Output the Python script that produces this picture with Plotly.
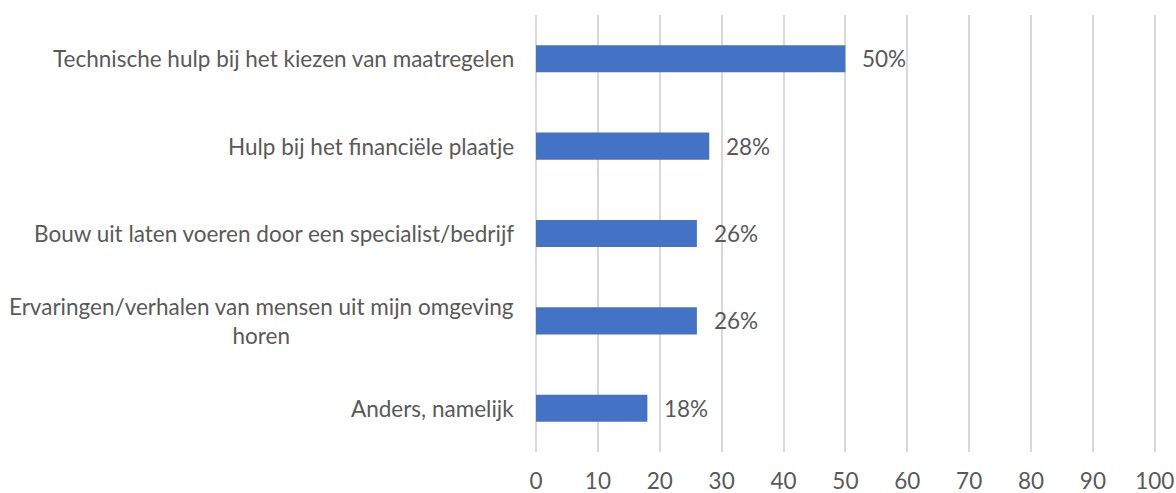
import plotly.graph_objects as go

categories = [
    "Technische hulp bij het kiezen van maatregelen",
    "Hulp bij het financiële plaatje",
    "Bouw uit laten voeren door een specialist/bedrijf",
    "Ervaringen/verhalen van mensen uit mijn omgeving<br>horen",
    "Anders, namelijk",
]
values = [50, 28, 26, 26, 18]
value_labels = ["50%", "28%", "26%", "26%", "18%"]
x_ticks = [0, 10, 20, 30, 40, 50, 60, 70, 80, 90, 100]

FONT = "Lato"
GREY = "#595959"
FS = 22.5

fig = go.Figure()
fig.add_trace(go.Bar(
    x=values, y=categories, orientation="h",
    marker=dict(color="#4472C4", line=dict(width=0)),
    hoverinfo="skip",
))

# category labels (centred lines like the original)
for cat in categories:
    fig.add_annotation(x=0, y=cat, xref="x", yref="y", text=cat,
                       showarrow=False, xanchor="right", align="center",
                       xshift=-20, font=dict(family=FONT, size=FS, color=GREY))

# value labels next to the bars
for v, lab, cat in zip(values, value_labels, categories):
    fig.add_annotation(x=v, y=cat, xref="x", yref="y", text=lab,
                       showarrow=False, xanchor="left", xshift=15,
                       font=dict(family=FONT, size=FS, color=GREY))

fig.update_layout(
    width=1176, height=493,
    margin=dict(l=536, r=20, t=15, b=41),
    plot_bgcolor="white", paper_bgcolor="white",
    bargap=0.69, showlegend=False,
    font=dict(family=FONT, size=FS, color=GREY),
)
fig.update_xaxes(range=[0, 100.2], tickvals=x_ticks, showgrid=True,
                 gridcolor="#d9d9d9", gridwidth=2, zeroline=True,
                 zerolinecolor="#d9d9d9", zerolinewidth=2,
                 ticks="outside", ticklen=9, tickcolor="rgba(0,0,0,0)",
                 showline=False, fixedrange=True, automargin=False)
fig.update_yaxes(autorange="reversed", showticklabels=False, showgrid=False,
                 zeroline=False, showline=False, fixedrange=True,
                 automargin=False)

# drop the default body margin so the figure sits at the window corner
fig.write_html("out.html", config={"displayModeBar": False},
               post_script="document.body.style.margin='0';")
